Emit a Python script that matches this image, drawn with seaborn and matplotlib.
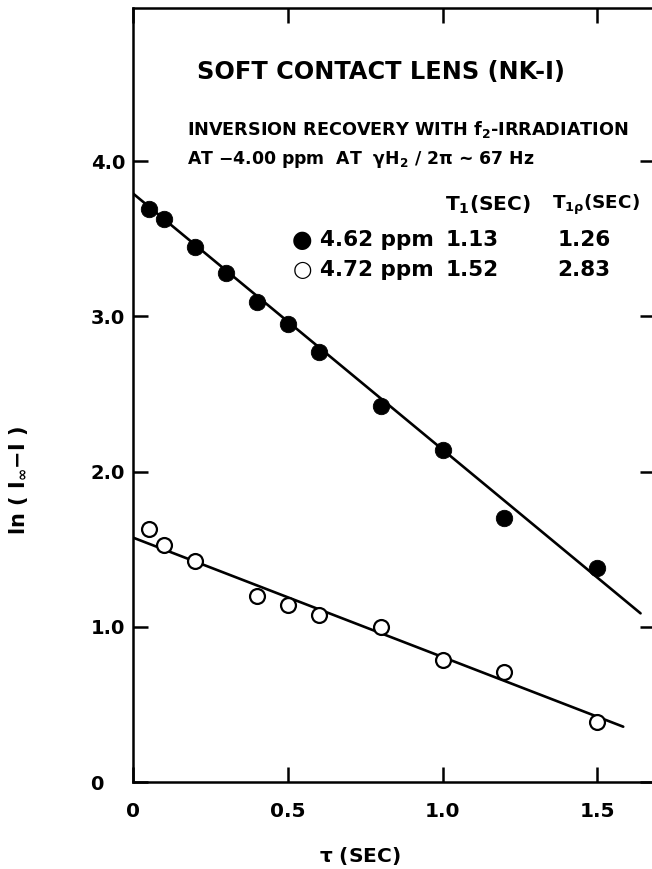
import matplotlib
matplotlib.use("Agg")
import matplotlib.pyplot as plt
import seaborn as sns
import pandas as pd

# ---- data ----
tau_filled = [0.05, 0.10, 0.20, 0.30, 0.40, 0.50, 0.60, 0.80, 1.00, 1.20, 1.50]
ln_filled = [3.69, 3.63, 3.45, 3.28, 3.09, 2.95, 2.77, 2.42, 2.14, 1.70, 1.38]
tau_open = [0.05, 0.10, 0.20, 0.40, 0.50, 0.60, 0.80, 1.00, 1.20, 1.50]
ln_open = [1.63, 1.53, 1.425, 1.20, 1.14, 1.077, 0.998, 0.787, 0.712, 0.39]
fit_filled_tau = [0.0, 1.64]
fit_filled_ln = [3.79, 1.088]
fit_open_tau = [0.0, 1.584]
fit_open_ln = [1.575, 0.358]
xticks = [0, 0.5, 1.0, 1.5]
xticklabels = ["0", "0.5", "1.0", "1.5"]
yticks = [0, 1, 2, 3, 4]
yticklabels = ["0   ", "1.0", "2.0", "3.0", "4.0"]

sns.set_theme(style="ticks")
plt.rcParams["font.family"] = ["DejaVu Sans"]
plt.rcParams["font.weight"] = "bold"
plt.rcParams["mathtext.fontset"] = "dejavusans"
plt.rcParams["mathtext.default"] = "bf"
plt.rcParams["text.color"] = "black"
plt.rcParams["axes.labelcolor"] = "black"
plt.rcParams["axes.labelweight"] = "bold"

W, H = 652, 869
fig = plt.figure(figsize=(W / 100, H / 100), dpi=100)
ax = fig.add_axes([133.3 / W, 1 - 782.3 / H, (655 - 133.3) / W, (782.3 - 8.3) / H])

df_f = pd.DataFrame({"tau": tau_filled, "ln": ln_filled})
df_o = pd.DataFrame({"tau": tau_open, "ln": ln_open})
ff = pd.DataFrame({"tau": fit_filled_tau, "ln": fit_filled_ln})
fo = pd.DataFrame({"tau": fit_open_tau, "ln": fit_open_ln})

sns.lineplot(data=ff, x="tau", y="ln", color="black", lw=1.9, ax=ax, zorder=2)
sns.lineplot(data=fo, x="tau", y="ln", color="black", lw=1.9, ax=ax, zorder=2)
sns.scatterplot(data=df_f, x="tau", y="ln", s=140, color="black",
                edgecolor="black", linewidth=0.6, ax=ax, zorder=3)
sns.scatterplot(data=df_o, x="tau", y="ln", s=115, facecolor="white",
                edgecolor="black", linewidth=1.6, ax=ax, zorder=3)

ax.set_xlim(0, (655 - 133.3) / 309.3)
ax.set_ylim(0, (782.3 - 8.3) / 155.3)
ax.set_xticks(xticks)
ax.set_xticklabels(xticklabels, fontweight="bold")
ax.set_yticks(yticks)
ax.set_yticklabels(yticklabels, fontweight="bold")
for s in ax.spines.values():
    s.set_visible(True)
    s.set_linewidth(1.8)
    s.set_color("black")
ax.tick_params(axis="both", direction="in", length=11, width=1.8,
               top=True, right=True, labelsize=14, colors="black")
ax.tick_params(axis="x", pad=14, labelsize=14.5)
ax.tick_params(axis="y", pad=6)

ax.set_xlabel(r"$\tau$ (SEC)", fontsize=14.5, fontweight="bold")
ax.set_ylabel(r"ln ( I$_\infty$$-$I )", fontsize=15, fontweight="bold")
ax.xaxis.set_label_coords((360 - 133.3) / 521.7, (782.3 - 845) / 774)
ax.yaxis.set_label_coords((30 - 133.3) / 521.7, (782.3 - 480) / 774)


def P(x, y):
    return x / W, 1 - y / H


kw = dict(va="center", ha="left", fontweight="bold", color="black")
fig.text(*P(197, 72), "SOFT CONTACT LENS (NK-I)", fontsize=17.3, **kw)
fig.text(*P(187, 130), r"INVERSION RECOVERY WITH f$_2$-IRRADIATION", fontsize=12.7, **kw)
fig.text(*P(187, 160), r"AT $-$4.00 ppm  AT  $\gamma$H$_2$ / 2$\pi$ ~ 67 Hz", fontsize=12.4, **kw)
fig.text(*P(445, 205), r"T$_1$(SEC)", fontsize=14.5, **kw)
fig.text(*P(552, 205), r"T$_{1\rho}$(SEC)", fontsize=13.2, **kw)
kwc = dict(va="center", ha="center", fontweight="bold", color="black")
fig.text(*P(302, 240), "●", fontsize=17, **kwc)
fig.text(*P(302, 270), "○", fontsize=16, **kwc)
fig.text(*P(320, 240), "4.62 ppm", fontsize=15.5, **kw)
fig.text(*P(320, 270), "4.72 ppm", fontsize=15.5, **kw)
fig.text(*P(472, 240), "1.13", fontsize=15.5, **kwc)
fig.text(*P(472, 270), "1.52", fontsize=15.5, **kwc)
fig.text(*P(584, 240), "1.26", fontsize=15.5, **kwc)
fig.text(*P(584, 270), "2.83", fontsize=15.5, **kwc)

fig.savefig("out.png", dpi=100)
